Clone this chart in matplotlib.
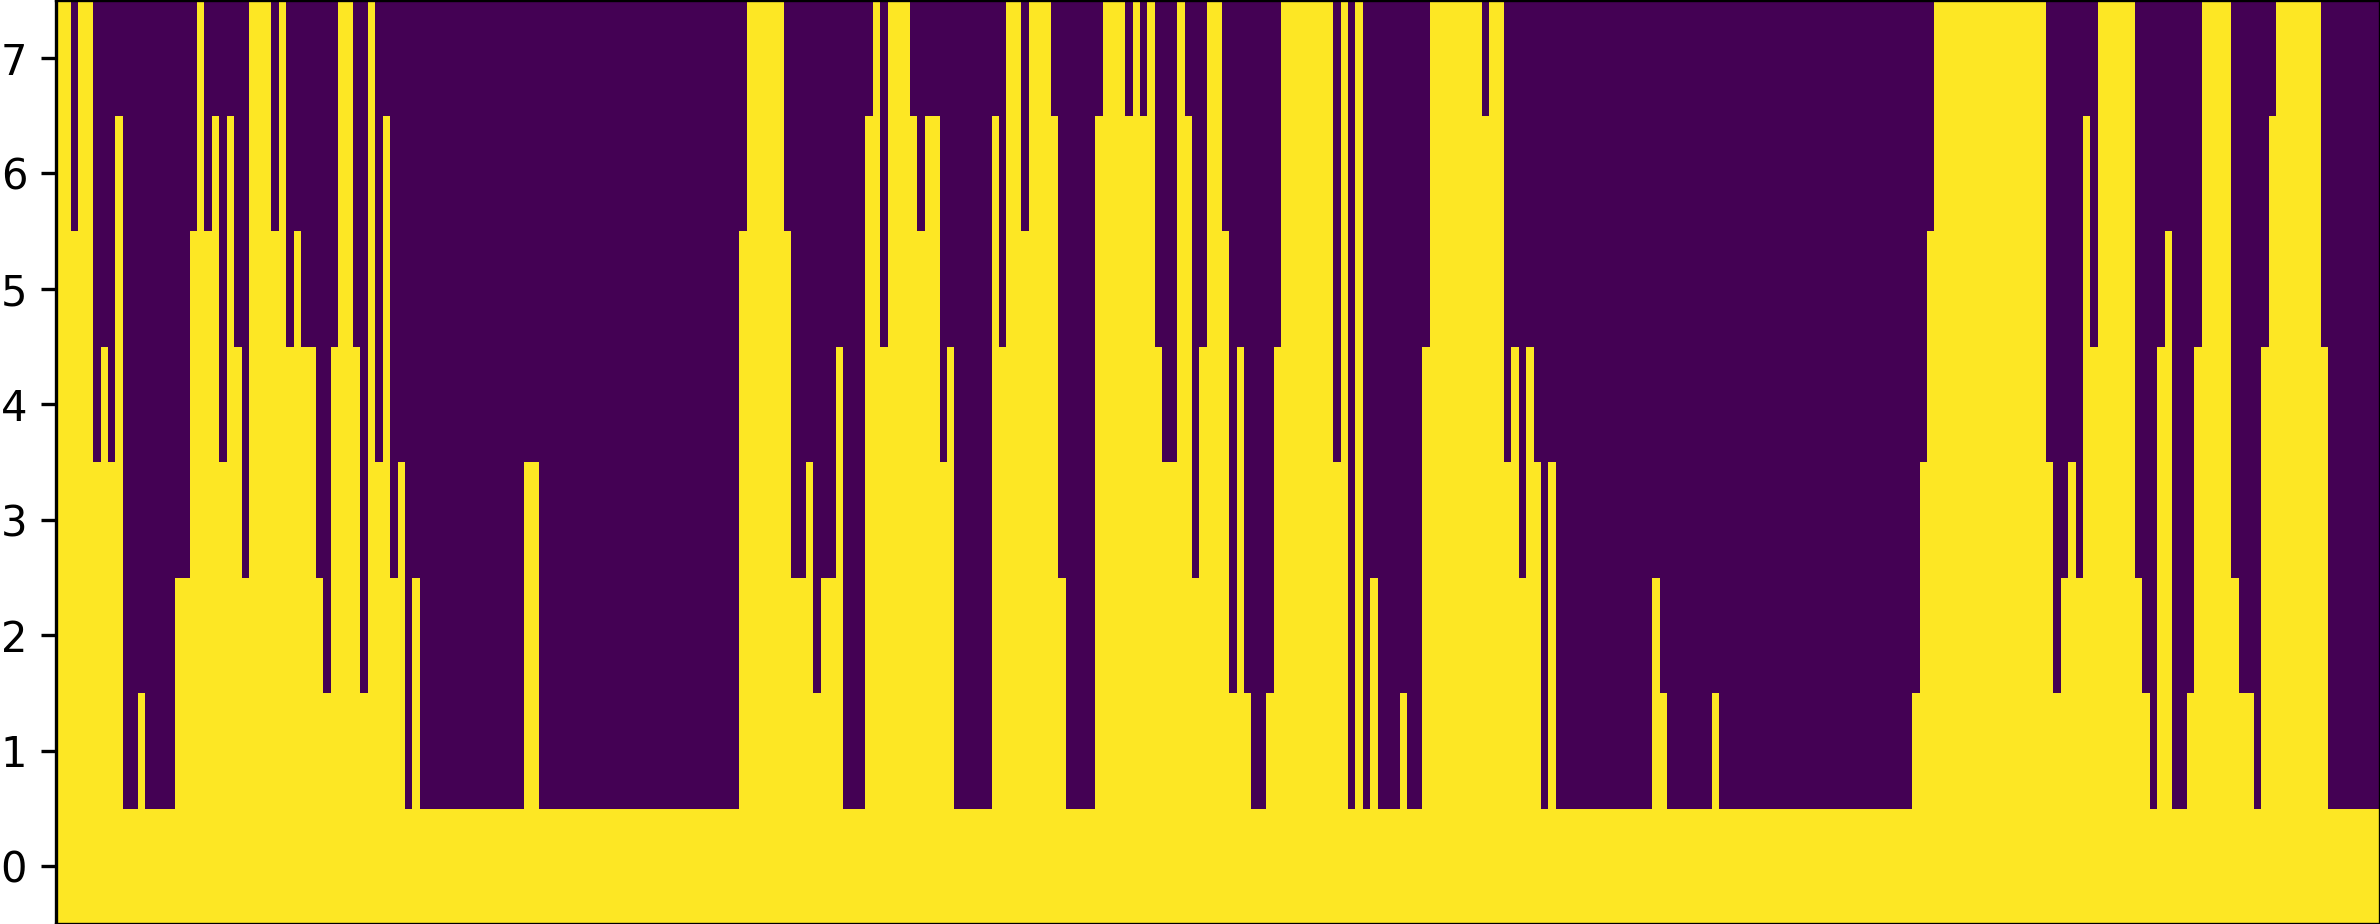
import matplotlib
matplotlib.use("Agg")
import matplotlib.pyplot as plt
import numpy as np

# how many rows are switched on in each column, counted from the bottom
col_heights = [
    8, 8, 6, 8, 8, 4, 5, 4, 7, 1, 1, 2, 1, 1, 1, 1, 3, 3, 6, 8,
    6, 7, 4, 7, 5, 3, 8, 8, 8, 6, 8, 5, 6, 5, 5, 3, 2, 5, 8, 8,
    5, 2, 8, 4, 7, 3, 4, 1, 3,
    1, 1, 1, 1, 1, 1, 1, 1, 1, 1, 1, 1, 1, 1,
    4, 4,
    1, 1, 1, 1, 1, 1, 1, 1, 1, 1, 1, 1, 1, 1, 1, 1, 1, 1, 1, 1,
    1, 1, 1, 1, 1, 1, 1,
    6, 8, 8, 8, 8, 8, 6, 3, 3, 4, 2, 3, 3, 5, 1, 1, 1, 7, 8, 5,
    8, 8, 8, 7, 6, 7, 7, 4, 5, 1, 1, 1, 1, 1, 7, 5, 8, 8, 6,
    8, 8, 8, 7, 3, 1, 1, 1, 1, 7, 8, 8, 8, 7, 8, 7, 8, 5, 4, 4,
    8, 7, 3, 5, 8, 8, 6, 2, 5, 2, 1, 1, 2, 5,
    8, 8, 8, 8, 8, 8, 8, 4, 8, 1, 8, 1, 3, 1, 1, 1, 2, 1, 1, 5,
    8, 8, 8, 8, 8, 8, 8, 7, 8, 8, 4, 5, 3, 5, 4, 1, 4,
    1, 1, 1, 1, 1, 1, 1, 1, 1, 1, 1, 1, 1,
    3, 2, 1, 1, 1, 1, 1, 1, 2,
    1, 1, 1, 1, 1, 1, 1, 1, 1, 1, 1, 1, 1, 1, 1, 1, 1, 1, 1, 1,
    1, 1, 1, 1, 1, 1,
    2, 4, 6,
    8, 8, 8, 8, 8, 8, 8, 8, 8, 8, 8, 8, 8, 8, 8,
    4, 2, 3, 4, 3, 7, 5, 8, 8, 8, 8, 8, 3, 2, 1, 5, 6, 1, 1, 2,
    5, 8, 8, 8, 8, 3, 2, 2, 1, 5, 7, 8, 8, 8, 8, 8, 8, 5,
    1, 1, 1, 1, 1, 1, 1,
]
y_ticks = [0, 1, 2, 3, 4, 5, 6, 7]
n_rows = 8

grid = np.zeros((n_rows, len(col_heights)))
for i, h in enumerate(col_heights):
    grid[:h, i] = 1

dpi = 300
fig = plt.figure(figsize=(2380 / dpi, 924 / dpi), dpi=dpi)
ax = fig.add_axes([56.4 / 2380, 0.3 / 924, (2380 - 56.4) / 2380, (923.7 - 0.3) / 924])
ax.imshow(grid, cmap="viridis", origin="lower", aspect="auto", interpolation="nearest")
ax.set_xticks([])
ax.set_yticks(y_ticks)

fig.savefig("out.png", dpi=dpi)
